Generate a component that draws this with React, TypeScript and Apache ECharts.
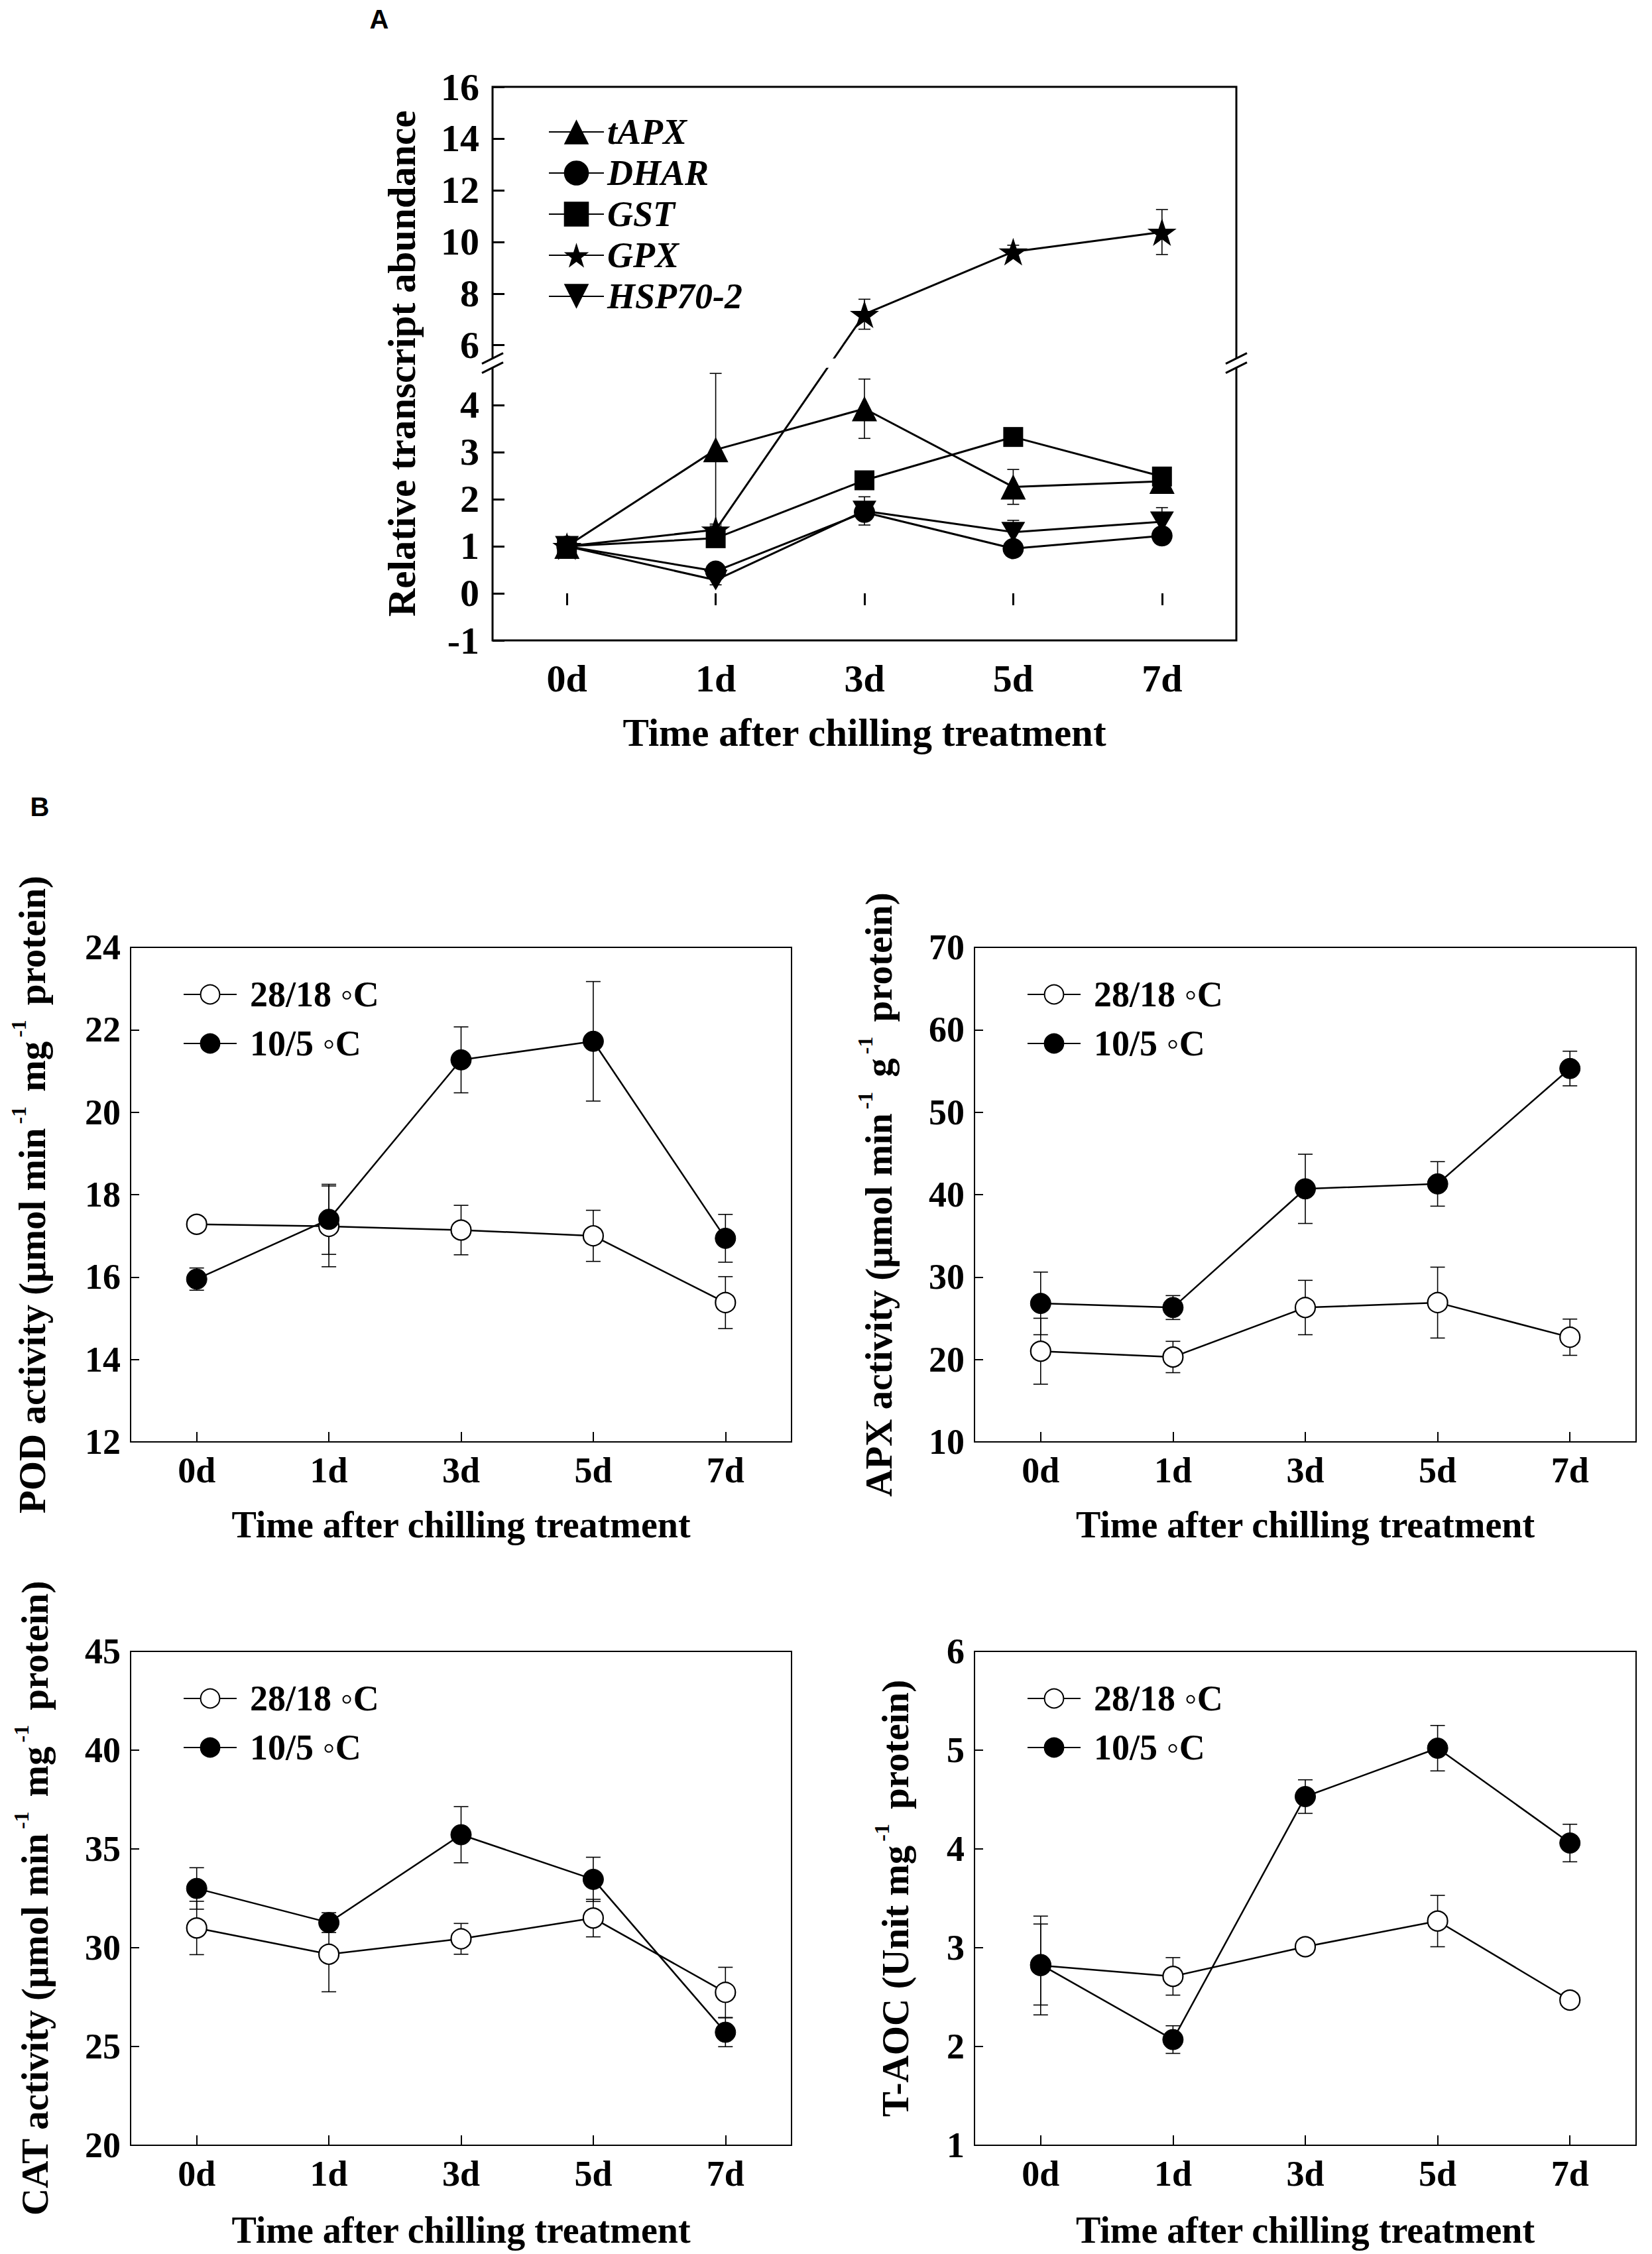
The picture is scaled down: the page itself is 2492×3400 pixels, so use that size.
import React, { useEffect, useRef } from "react";
import * as echarts from "echarts";

// ---------- categories ----------
const days = ["0d", "1d", "3d", "5d", "7d"];

// ---------- Panel A : relative transcript abundance ----------
const geneNames = ["tAPX", "DHAR", "GST", "GPX", "HSP70-2"];
const tAPX = [1.0, 3.05, 3.92, 2.26, 2.38];
const tAPXErr = [0, 1.62, 0.63, 0.37, 0.25];
const DHAR = [1.0, 0.47, 1.72, 0.95, 1.22];
const DHARErr = [0, 0.1, 0.1, 0.08, 0.1];
const GST = [1.0, 1.17, 2.4, 3.32, 2.48];
const GSTErr = [0, 0.1, 0.12, 0.12, 0.1];
const GPX = [1.0, 1.35, 7.2, 9.62, 10.38];
const GPXErr = [0, 0.12, 0.58, 0.25, 0.87];
const HSP = [1.0, 0.28, 1.75, 1.3, 1.52];
const HSPErr = [0, 0.1, 0.3, 0.25, 0.3];
const yTicksA = [-1, 0, 1, 2, 3, 4, 6, 8, 10, 12, 14, 16];

// ---------- Panel B : enzyme activities ----------
const controlName = "28/18 \u25E6C";
const chillName = "10/5 \u25E6C";

const podControl = [17.28, 17.23, 17.14, 17.0, 15.38];
const podControlErr = [0.1, 0.98, 0.6, 0.62, 0.63];
const podChill = [15.95, 17.4, 21.27, 21.72, 16.94];
const podChillErr = [0.27, 0.85, 0.8, 1.45, 0.58];

const apxControl = [21.0, 20.3, 26.3, 26.9, 22.7];
const apxControlErr = [4.0, 1.9, 3.3, 4.3, 2.2];
const apxChill = [26.8, 26.3, 40.7, 41.3, 55.3];
const apxChillErr = [3.8, 1.45, 4.2, 2.7, 2.1];

const catControl = [31.0, 29.67, 30.45, 31.5, 27.74];
const catControlErr = [1.35, 1.9, 0.78, 0.95, 1.27];
const catChill = [33.0, 31.27, 35.72, 33.46, 25.72];
const catChillErr = [1.05, 0.5, 1.42, 1.12, 0.73];

const taocControl = [2.82, 2.71, 3.01, 3.27, 2.47];
const taocControlErr = [0.5, 0.19, 0.05, 0.26, 0.04];
const taocChill = [2.83, 2.07, 4.53, 5.02, 4.06];
const taocChillErr = [0.41, 0.14, 0.17, 0.23, 0.19];

// ---------- broken y axis of panel A ----------
const BREAK_LO = 4.89; // top of the lower segment
const BREAK_HI = 5.31; // bottom of the upper segment
const UPPER_RATIO = 0.5487; // upper segment is compressed
const toA = (v: number) => (v <= BREAK_LO ? v : BREAK_LO + (v - BREAK_HI) * UPPER_RATIO);

// ---------- layout ----------
const FONT = "'Liberation Serif', 'Times New Roman', serif";
const gridA = { left: 743, top: 131, width: 1122, height: 835 };
const gridsB = [
  { left: 197, top: 1429, width: 997, height: 746 },
  { left: 1470, top: 1429, width: 998, height: 746 },
  { left: 197, top: 2491, width: 997, height: 745 },
  { left: 1470, top: 2491, width: 998, height: 745 },
];

const panelsB = [
  {
    title: "POD activity (\u03BCmol min{sup|-1}mg{sup|-1}protein)",
    min: 12, max: 24, interval: 2,
    control: podControl, controlErr: podControlErr, chill: podChill, chillErr: podChillErr,
    nameGap: 113,
  },
  {
    title: "APX activity (\u03BCmol min{sup|-1}g{sup|-1}protein)",
    min: 10, max: 70, interval: 10,
    control: apxControl, controlErr: apxControlErr, chill: apxChill, chillErr: apxChillErr,
    nameGap: 109,
  },
  {
    title: "CAT activity (\u03BCmol min{sup|-1}mg{sup|-1}protein)",
    min: 20, max: 45, interval: 5,
    control: catControl, controlErr: catControlErr, chill: catChill, chillErr: catChillErr,
    nameGap: 109,
  },
  {
    title: "T-AOC (Unit mg{sup|-1}protein)",
    min: 1, max: 6, interval: 1,
    control: taocControl, controlErr: taocControlErr, chill: taocChill, chillErr: taocChillErr,
    nameGap: 84,
  },
];

const STAR =
  "path://M50,0L61.23,34.55L97.55,34.55L68.17,55.9L79.39,90.45L50,69.1L20.61,90.45L31.83,55.9L2.45,34.55L38.77,34.55Z";
const DOWN_TRI = "path://M0,0L100,0L50,86Z";

function errorSeries(
  xAxisIndex: number,
  vals: number[],
  errs: number[],
  capW: number,
  tf: (v: number) => number
) {
  const data = vals.map((v, i) => [i, tf(v - errs[i]), tf(v + errs[i]), errs[i]]);
  return {
    type: "custom",
    xAxisIndex,
    yAxisIndex: xAxisIndex,
    data,
    z: 1,
    silent: true,
    encode: { x: 0, y: [1, 2] },
    renderItem: (params: any, api: any) => {
      if (api.value(3) === 0) return { type: "group", children: [] };
      const x = api.value(0);
      const lo = api.coord([x, api.value(1)]);
      const hi = api.coord([x, api.value(2)]);
      const w = capW / 2;
      const style = { stroke: "#000", lineWidth: 1.6 };
      return {
        type: "group",
        children: [
          { type: "line", shape: { x1: lo[0], y1: lo[1], x2: hi[0], y2: hi[1] }, style },
          { type: "line", shape: { x1: lo[0] - w, y1: lo[1], x2: lo[0] + w, y2: lo[1] }, style },
          { type: "line", shape: { x1: hi[0] - w, y1: hi[1], x2: hi[0] + w, y2: hi[1] }, style },
        ],
      };
    },
  };
}

function buildOption() {
  const grids = [gridA, ...gridsB].map((g, i) => ({
    ...g,
    show: true,
    borderColor: "#000",
    borderWidth: i === 0 ? 3 : 2,
    backgroundColor: "transparent",
    containLabel: false,
    outerBoundsMode: "none",
  }));

  const xAxes = [0, 1, 2, 3, 4].map((i) => ({
    type: "category",
    gridIndex: i,
    data: days,
    boundaryGap: true,
    axisLine: { show: false },
    axisTick: {
      show: true,
      alignWithLabel: true,
      inside: i > 0,
      length: i === 0 ? 18 : 15,
      lineStyle: { color: "#000", width: i === 0 ? 3 : 2 },
    },
    axisLabel: {
      margin: i === 0 ? 28 : 16,
      fontFamily: FONT,
      fontWeight: "bold",
      fontSize: i === 0 ? 58 : 54,
      color: "#000",
    },
    splitLine: { show: false },
    name: "Time after chilling treatment",
    nameLocation: "middle",
    nameGap: i === 0 ? 109 : i < 3 ? 97 : 100,
    nameMoveOverlap: false,
    nameTextStyle: { fontFamily: FONT, fontWeight: "bold", fontSize: i === 0 ? 59 : 56, color: "#000" },
  }));

  const tickValsA = yTicksA.map(toA);
  const yAxisA = {
    type: "value",
    gridIndex: 0,
    min: toA(-1),
    max: toA(16),
    axisLine: { show: false },
    axisTick: {
      show: true,
      inside: true,
      length: 18,
      lineStyle: { color: "#000", width: 3 },
      customValues: tickValsA,
    },
    axisLabel: {
      customValues: tickValsA,
      formatter: (v: number) => {
        const t = yTicksA.find((tt) => Math.abs(toA(tt) - v) < 1e-6);
        return t === undefined ? "" : String(t);
      },
      margin: 20,
      fontFamily: FONT,
      fontWeight: "bold",
      fontSize: 58,
      color: "#000",
    },
    splitLine: { show: false },
    name: "Relative transcript abundance",
    nameLocation: "middle",
    nameGap: 108,
    nameMoveOverlap: false,
    nameTextStyle: { fontFamily: FONT, fontWeight: "bold", fontSize: 59, color: "#000" },
  };

  const yAxesB = panelsB.map((p, k) => ({
    type: "value",
    gridIndex: k + 1,
    min: p.min,
    max: p.max,
    interval: p.interval,
    axisLine: { show: false },
    axisTick: { show: true, inside: true, length: 13, lineStyle: { color: "#000", width: 2 } },
    axisLabel: { margin: 15, fontFamily: FONT, fontWeight: "bold", fontSize: 54, color: "#000" },
    splitLine: { show: false },
    name: p.title,
    nameLocation: "middle",
    nameGap: p.nameGap,
    nameMoveOverlap: false,
    nameTextStyle: {
      fontFamily: FONT,
      fontWeight: "bold",
      fontSize: 57,
      color: "#000",
      lineHeight: 72,
      rich: {
        sup: {
          fontFamily: FONT,
          fontWeight: "bold",
          fontSize: 32,
          lineHeight: 32,
          verticalAlign: "top",
          padding: [0, 22, 0, 6],
          color: "#000",
        },
      },
    },
  }));

  const lineA = (name: string, vals: number[], symbol: string, size: number) => ({
    type: "line",
    name,
    xAxisIndex: 0,
    yAxisIndex: 0,
    data: vals.map(toA),
    symbol,
    symbolSize: size,
    symbolKeepAspect: true,
    showAllSymbol: true,
    lineStyle: { color: "#000", width: 3 },
    itemStyle: { color: "#000" },
    emphasis: { disabled: true },
    z: 2,
  });

  const seriesA = [
    errorSeries(0, tAPX, tAPXErr, 18, toA),
    errorSeries(0, DHAR, DHARErr, 18, toA),
    errorSeries(0, GST, GSTErr, 18, toA),
    errorSeries(0, GPX, GPXErr, 18, toA),
    errorSeries(0, HSP, HSPErr, 18, toA),
    lineA("tAPX", tAPX, "triangle", 38),
    lineA("DHAR", DHAR, "circle", 32),
    lineA("GST", GST, "rect", 30),
    lineA("GPX", GPX, STAR, 44),
    lineA("HSP70-2", HSP, DOWN_TRI, 36),
  ];

  const id = (v: number) => v;
  const seriesB: any[] = [];
  panelsB.forEach((p, k) => {
    const ai = k + 1;
    seriesB.push(errorSeries(ai, p.control, p.controlErr, 22, id));
    seriesB.push(errorSeries(ai, p.chill, p.chillErr, 22, id));
    seriesB.push({
      type: "line",
      name: controlName,
      xAxisIndex: ai,
      yAxisIndex: ai,
      data: p.control,
      symbol: "circle",
      symbolSize: 30,
      showAllSymbol: true,
      lineStyle: { color: "#000", width: 2.5 },
      itemStyle: { color: "#fff", borderColor: "#000", borderWidth: 2.2 },
      emphasis: { disabled: true },
      z: 2,
    });
    seriesB.push({
      type: "line",
      name: chillName,
      xAxisIndex: ai,
      yAxisIndex: ai,
      data: p.chill,
      symbol: "circle",
      symbolSize: 31,
      showAllSymbol: true,
      lineStyle: { color: "#000", width: 2.5 },
      itemStyle: { color: "#000", borderColor: "#000", borderWidth: 1 },
      emphasis: { disabled: true },
      z: 2,
    });
  });

  const legendText = { fontFamily: FONT, fontWeight: "bold", fontSize: 54, color: "#000" };
  const legends: any[] = [
    {
      left: 827,
      top: 172,
      orient: "vertical",
      itemWidth: 83,
      itemHeight: 47,
      itemGap: 8,
      padding: 0,
      selectedMode: false,
      data: geneNames,
      textStyle: { ...legendText, fontStyle: "italic" },
    },
    ...gridsB.map((g) => ({
      left: g.left + 79,
      top: g.top + 44,
      orient: "vertical",
      itemWidth: 80,
      itemHeight: 36,
      itemGap: 20,
      padding: 0,
      selectedMode: false,
      data: [controlName, chillName],
      textStyle: { ...legendText, padding: [0, 0, 0, 15] },
    })),
  ];

  return {
    animation: false,
    backgroundColor: "#fff",
    grid: grids,
    xAxis: xAxes,
    yAxis: [yAxisA, ...yAxesB],
    legend: legends,
    series: [...seriesA, ...seriesB],
  };
}

function buildGraphic(yb: number) {
  const xl = gridA.left;
  const xr = gridA.left + gridA.width;
  const slash = (x: number, c: number) => ({
    type: "line",
    z: 101,
    shape: { x1: x - 16, y1: c + 8, x2: x + 16, y2: c - 8 },
    style: { stroke: "#000", lineWidth: 3 },
  });
  return {
    elements: [
      {
        type: "rect",
        z: 100,
        shape: { x: xl - 8, y: yb - 7, width: gridA.width + 16, height: 14 },
        style: { fill: "#fff" },
      },
      slash(xl, yb - 7),
      slash(xl, yb + 7),
      slash(xr, yb - 7),
      slash(xr, yb + 7),
      {
        type: "text",
        z: 101,
        x: 572,
        y: 29,
        style: {
          text: "A",
          font: "bold 40px 'Liberation Sans', Arial, sans-serif",
          fill: "#000",
          textAlign: "center",
          textVerticalAlign: "middle",
        },
      },
      {
        type: "text",
        z: 101,
        x: 60,
        y: 1217,
        style: {
          text: "B",
          font: "bold 40px 'Liberation Sans', Arial, sans-serif",
          fill: "#000",
          textAlign: "center",
          textVerticalAlign: "middle",
        },
      },
    ],
  };
}

export default function App() {
  const ref = useRef<HTMLDivElement>(null);
  useEffect(() => {
    const el = ref.current;
    if (!el) return;
    const chart = echarts.init(el, null, { renderer: "svg" });
    chart.setOption(buildOption() as any);
    const yb = chart.convertToPixel({ yAxisIndex: 0 }, BREAK_LO) as unknown as number;
    chart.setOption({ graphic: buildGraphic(yb) } as any);
    return () => chart.dispose();
  }, []);
  return (
    <div
      ref={ref}
      style={{ position: "absolute", left: 0, top: 0, width: 2492, height: 3400, background: "#fff" }}
    />
  );
}
